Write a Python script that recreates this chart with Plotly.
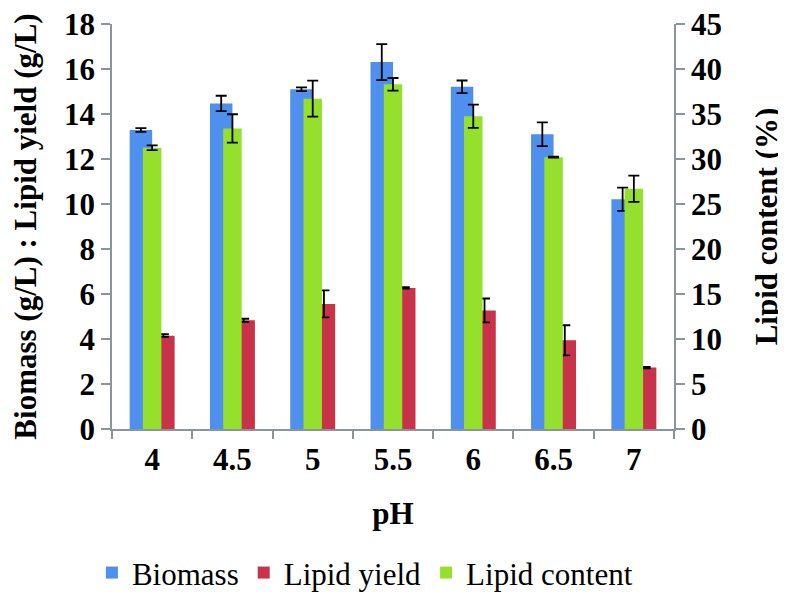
import plotly.graph_objects as go

ph = ["4", "4.5", "5", "5.5", "6", "6.5", "7"]
biomass = [13.29, 14.47, 15.10, 16.31, 15.21, 13.10, 10.21]
biomass_err = [0.08, 0.34, 0.08, 0.80, 0.28, 0.53, 0.52]
lipid_yield = [4.15, 4.83, 5.56, 6.27, 5.27, 3.94, 2.73]
lipid_yield_err = [0.06, 0.07, 0.60, 0.03, 0.53, 0.67, 0.03]
lipid_content = [31.25, 33.4, 36.7, 38.3, 34.75, 30.2, 26.7]
lipid_content_err = [0.26, 1.57, 2.0, 0.7, 1.3, 0.05, 1.46]

FONT = "Liberation Serif"
AXIS_COLOR = "#8a9599"

def eb(arr):
    return dict(type="data", array=arr, visible=True, color="black",
                thickness=1.8, width=5.5)

fig = go.Figure()
fig.add_trace(go.Bar(x=ph, y=biomass, name="Biomass", marker_color="#4f90ee",
                     marker_line_width=0, width=0.28, offset=-0.28,
                     error_y=eb(biomass_err), yaxis="y"))
fig.add_trace(go.Bar(x=ph, y=lipid_yield, name="Lipid yield", marker_color="#c8334a",
                     marker_line_width=0, width=0.28, offset=0.0,
                     error_y=eb(lipid_yield_err), yaxis="y"))
fig.add_trace(go.Bar(x=ph, y=lipid_content, name="Lipid content", marker_color="#94e02c",
                     marker_line_width=0, width=0.23, offset=-0.115,
                     error_y=eb(lipid_content_err), yaxis="y2"))

# the page body adds an 8px margin, so the figure is 8px smaller than the window
fig.update_layout(
    width=778, height=586,
    margin=dict(l=104, r=112, t=16, b=165),
    barmode="overlay",
    plot_bgcolor="white", paper_bgcolor="white",
    font=dict(family=FONT, size=31, color="black"),
    xaxis=dict(
        type="category", range=[-0.5, 6.5], automargin=False,
        showline=True, linecolor=AXIS_COLOR, linewidth=1.6,
        ticks="outside", tickson="boundaries", ticklen=8, tickcolor=AXIS_COLOR, tickwidth=1.6,
        tickfont=dict(family=FONT, size=31, weight="bold"),
        ticklabelstandoff=2, ticklabeloverflow="allow",
        showgrid=False,
        title=dict(text="pH", font=dict(family=FONT, size=31, weight="bold"), standoff=26),
    ),
    yaxis=dict(
        range=[0, 18], dtick=2, tick0=0, automargin=False,
        showline=True, linecolor=AXIS_COLOR, linewidth=1.6,
        ticks="outside", ticklen=9, tickcolor=AXIS_COLOR, tickwidth=1.6,
        tickfont=dict(family=FONT, size=31, weight="bold"),
        ticklabeloverflow="allow",
        showgrid=False, zeroline=False,
        title=dict(text="Biomass (g/L) : Lipid yield (g/L)",
                   font=dict(family=FONT, size=31, weight="bold"), standoff=30),
    ),
    yaxis2=dict(
        range=[0, 45], dtick=5, tick0=0, overlaying="y", side="right", automargin=False,
        showline=True, linecolor=AXIS_COLOR, linewidth=1.6,
        ticks="outside", ticklen=9, tickcolor=AXIS_COLOR, tickwidth=1.6,
        tickfont=dict(family=FONT, size=31, weight="bold"),
        ticklabeloverflow="allow",
        showgrid=False, zeroline=False,
        title=dict(text="Lipid content (%)",
                   font=dict(family=FONT, size=31, weight="bold"), standoff=34),
    ),
    showlegend=True,
    legend=dict(orientation="h", x=0.45, xanchor="center",
                yref="container", y=0.036, yanchor="middle",
                font=dict(family=FONT, size=31),
                traceorder="normal", bgcolor="rgba(0,0,0,0)"),
)

fig.write_html("out.html")
